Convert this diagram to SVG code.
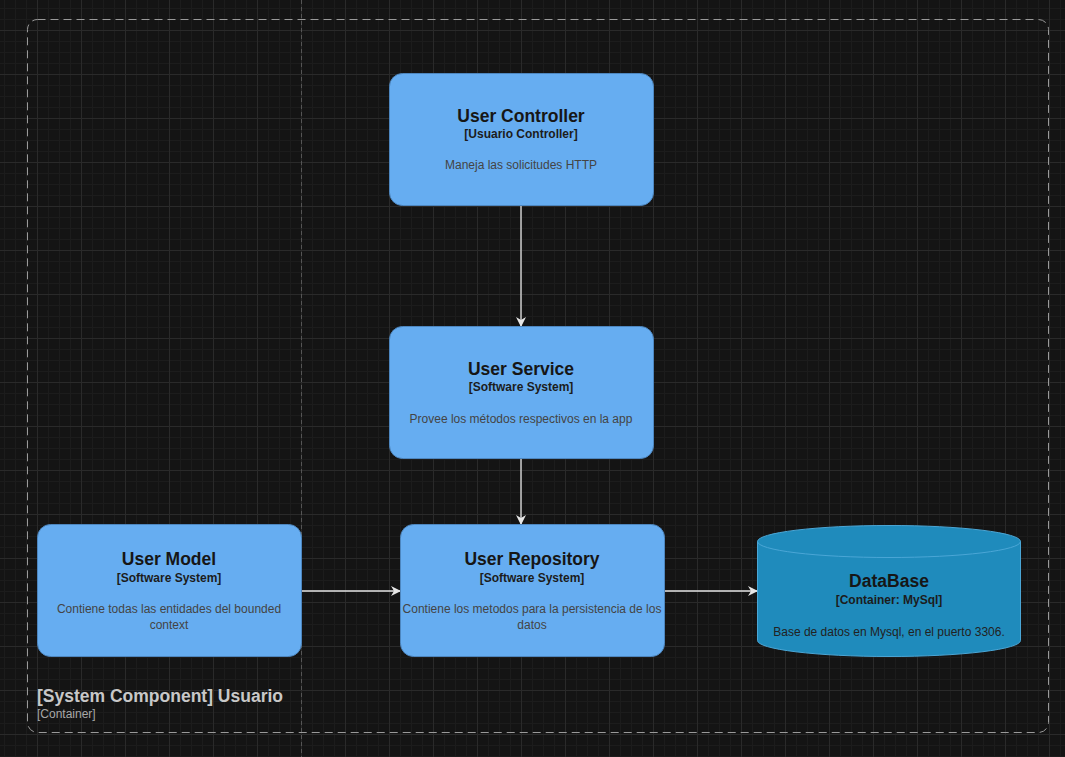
<svg xmlns="http://www.w3.org/2000/svg" width="1065" height="757" viewBox="0 0 1065 757">
<defs>
<pattern id="minor" x="37" y="30" width="11" height="11" patternUnits="userSpaceOnUse">
<path d="M0 0.5H11M0.5 0V11" stroke="#1c1c1c" stroke-width="1" fill="none"/>
</pattern>
<pattern id="major" x="37" y="30" width="44" height="44" patternUnits="userSpaceOnUse">
<path d="M0 0.5H44M0.5 0V44" stroke="#2a2a2a" stroke-width="1" fill="none"/>
</pattern>
<marker id="arrow" viewBox="0 0 10 10" refX="9" refY="5" markerWidth="10" markerHeight="10" markerUnits="userSpaceOnUse" orient="auto">
<path d="M0 0L10 5L0 10L3 5Z" fill="#e6e6e6"/>
</marker>
<style>
.box{fill:#66adf1;stroke:#4d86bf;stroke-width:1}
.db{fill:#1f8bbc;stroke:#4aa6d6;stroke-width:1}
.t{font-family:"Liberation Sans",Arial,sans-serif;font-weight:bold;font-size:17.5px;fill:#161616;text-anchor:middle}
.s{font-family:"Liberation Sans",Arial,sans-serif;font-weight:bold;font-size:12px;fill:#1c1c1c;text-anchor:middle}
.d{font-family:"Liberation Sans",Arial,sans-serif;font-size:12px;fill:#444;text-anchor:middle}
.dd{fill:#222}
.c{stroke:#e6e6e6;stroke-width:1.3;fill:none;marker-end:url(#arrow)}
</style>
</defs>
<rect width="1065" height="757" fill="#141414"/>
<rect width="1065" height="757" fill="url(#minor)"/>
<rect width="1065" height="757" fill="url(#major)"/>
<line x1="301.5" y1="0" x2="301.5" y2="757" stroke="#555" stroke-width="1" stroke-dasharray="4 3"/>
<g id="container">
<rect x="27.5" y="19.5" width="1021" height="713" rx="10" fill="none" stroke="#9a9a9a" stroke-width="1" stroke-dasharray="8 5"/>
<text x="37" y="702" font-family="'Liberation Sans',Arial,sans-serif" font-weight="bold" font-size="17.5" fill="#c8c8c8">[System Component] Usuario</text>
<text x="37" y="718" font-family="'Liberation Sans',Arial,sans-serif" font-size="12" fill="#a8a8a8">[Container]</text>
</g>
<g id="connectors">
<line class="c" x1="521" y1="206" x2="521" y2="326"/>
<line class="c" x1="521" y1="459" x2="521" y2="524"/>
<line class="c" x1="301" y1="591" x2="400" y2="591"/>
<line class="c" x1="664" y1="591" x2="757" y2="591"/>
</g>
<g id="user-controller">
<rect class="box" x="389.5" y="73.5" width="264" height="132" rx="13"/>
<text class="t" x="521" y="122">User Controller</text>
<text class="s" x="521" y="138">[Usuario Controller]</text>
<text class="d" x="521" y="169">Maneja las solicitudes HTTP</text>
</g>
<g id="user-service">
<rect class="box" x="389.5" y="326.5" width="264" height="132" rx="13"/>
<text class="t" x="521" y="375">User Service</text>
<text class="s" x="521" y="391">[Software System]</text>
<text class="d" x="521" y="423">Provee los métodos respectivos en la app</text>
</g>
<g id="user-model">
<rect class="box" x="37.5" y="524.5" width="264" height="132" rx="13"/>
<text class="t" x="169" y="565">User Model</text>
<text class="s" x="169" y="582">[Software System]</text>
<text class="d" x="169" y="613">Contiene todas las entidades del bounded</text>
<text class="d" x="169" y="629">context</text>
</g>
<g id="user-repository">
<rect class="box" x="400.5" y="524.5" width="264" height="132" rx="13"/>
<text class="t" x="532" y="565">User Repository</text>
<text class="s" x="532" y="582">[Software System]</text>
<text class="d" x="532" y="613">Contiene los metodos para la persistencia de los</text>
<text class="d" x="532" y="629">datos</text>
</g>
<g id="database">
<path class="db" d="M757.5 541.5A131.5 16 0 0 1 1020.5 541.5V640.5A131.5 16 0 0 1 757.5 640.5Z"/>
<path d="M757.5 541.5A131.5 16 0 0 0 1020.5 541.5" fill="none" stroke="#4aa6d6" stroke-width="1"/>
<text class="t" x="889" y="587">DataBase</text>
<text class="s" x="889" y="604">[Container: MySql]</text>
<text class="d dd" x="889" y="636">Base de datos en Mysql, en el puerto 3306.</text>
</g>
</svg>
